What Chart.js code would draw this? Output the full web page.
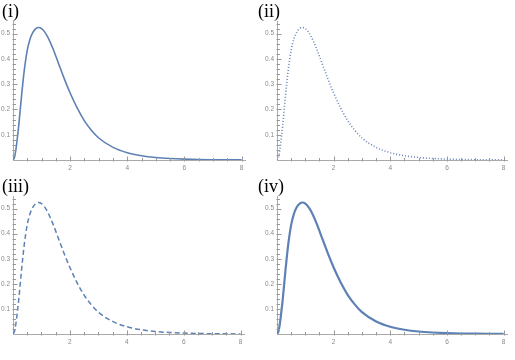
<!DOCTYPE html>
<html>
<head>
<meta charset="utf-8">
<script src="https://cdn.jsdelivr.net/npm/chart.js@4.4.0/dist/chart.umd.min.js"></script>
<style>
  body { margin: 0; background: #fff; }
  #wrap { position: relative; width: 515px; height: 360px; overflow: hidden; }
  canvas { position: absolute; }
  .lbl { position: absolute; font-family: "Liberation Serif", serif; font-size: 18px; line-height: 20px; color: #000; }
</style>
</head>
<body>
<div id="wrap">
  <canvas id="c1" width="250" height="180" style="left:0;top:0"></canvas>
  <canvas id="c2" width="255" height="180" style="left:257px;top:0"></canvas>
  <canvas id="c3" width="250" height="180" style="left:0;top:175px"></canvas>
  <canvas id="c4" width="255" height="180" style="left:257px;top:175px"></canvas>
  <div class="lbl" style="left:2px;top:1px">(i)</div>
  <div class="lbl" style="left:258px;top:1px">(ii)</div>
  <div class="lbl" style="left:2px;top:176px">(iii)</div>
  <div class="lbl" style="left:258px;top:176px">(iv)</div>
</div>
<script>
// valores (misma curva en los 4 paneles)
var xValues = [0, 0.05, 0.1, 0.15, 0.2, 0.25, 0.3, 0.35, 0.4, 0.5, 0.6, 0.7, 0.8, 0.9, 1.0, 1.1, 1.2, 1.4, 1.6, 1.8,
               2.0, 2.25, 2.5, 2.75, 3.0, 3.5, 4.0, 4.5, 5.0, 5.5, 6.0, 6.5, 7.0, 7.5, 8.0];
var yValues = [0, 0.01, 0.04, 0.085, 0.135, 0.195, 0.255, 0.31, 0.36, 0.435, 0.48, 0.506, 0.52, 0.524, 0.52, 0.508, 0.49, 0.44, 0.38, 0.32,
               0.265, 0.205, 0.155, 0.117, 0.087, 0.05, 0.029, 0.017, 0.01, 0.006, 0.0035, 0.002, 0.0012, 0.0007, 0.0004];
var xTickLabels = [2, 4, 6, 8];
var yTickLabels = [0.1, 0.2, 0.3, 0.4, 0.5];

var azul = '#5e81b5';

// marcas de eje hacia dentro, como Mathematica
var ticksPlugin = {
    id: 'ticksDentro',
    afterDraw: function(chart) {
        var c = chart.ctx, xs = chart.scales.x, ys = chart.scales.y;
        c.save();
        c.strokeStyle = '#999';
        c.lineWidth = 1;
        var y0 = Math.round(ys.getPixelForValue(0)) + 0.5;
        var x0 = Math.round(xs.getPixelForValue(0)) + 0.5;
        xs.ticks.forEach(function(t) {
            var k = Math.round(t.value / 0.5);
            if (Math.abs(k * 0.5 - t.value) > 1e-6 || t.value === 0) return;
            var p = Math.round(xs.getPixelForValue(t.value)) + 0.5;
            var len = (k % 4 === 0) ? 4 : 2.5;
            c.beginPath(); c.moveTo(p, y0 + 1); c.lineTo(p, y0 - len); c.stroke();
        });
        ys.ticks.forEach(function(t) {
            var k = Math.round(t.value / 0.02);
            if (Math.abs(k * 0.02 - t.value) > 1e-6 || t.value === 0) return;
            var p = Math.round(ys.getPixelForValue(t.value)) + 0.5;
            var len = (k % 5 === 0) ? 4 : 2.5;
            c.beginPath(); c.moveTo(x0 - 1, p); c.lineTo(x0 + len, p); c.stroke();
        });
        c.restore();
    }
};

function hacerPanel(id, lay, estilo) {
    var puntos = xValues.map(function(x, i) { return { x: x, y: yValues[i] }; });
    var ctx = document.getElementById(id).getContext('2d');
    return new Chart(ctx, {
        type: 'line',
        data: {
            datasets: [{
                data: puntos,
                borderColor: estilo.color,
                borderWidth: estilo.width,
                borderDash: estilo.dash,
                borderCapStyle: 'butt',
                pointRadius: 0,
                fill: false,
                cubicInterpolationMode: 'monotone'
            }]
        },
        options: {
            responsive: false,
            animation: false,
            devicePixelRatio: 1,
            layout: { padding: { top: lay.top, right: lay.right, left: 0, bottom: 0 } },
            plugins: { legend: { display: false }, tooltip: { enabled: false } },
            scales: {
                x: {
                    type: 'linear',
                    min: 0,
                    max: 8.12,
                    grid: { display: false, drawTicks: false },
                    border: { display: true, color: '#aaa', width: 1 },
                    ticks: {
                        stepSize: 0.5,
                        includeBounds: false,
                        autoSkip: false,
                        maxRotation: 0,
                        padding: 4,
                        color: '#8a8a8a',
                        font: { family: 'Liberation Sans', size: 6.5 },
                        callback: function(v) {
                            return xTickLabels.indexOf(v) >= 0 ? String(v) : '';
                        }
                    },
                    afterFit: function(s) { s.height = lay.xh; }
                },
                y: {
                    type: 'linear',
                    min: 0,
                    max: 0.55,
                    grid: { display: false, drawTicks: false },
                    border: { display: true, color: '#aaa', width: 1 },
                    ticks: {
                        stepSize: 0.02,
                        includeBounds: false,
                        autoSkip: false,
                        padding: 3,
                        color: '#8a8a8a',
                        font: { family: 'Liberation Sans', size: 6.5 },
                        callback: function(v) {
                            for (var i = 0; i < yTickLabels.length; i++) {
                                if (Math.abs(yTickLabels[i] - v) < 1e-6) return yTickLabels[i].toFixed(1);
                            }
                            return '';
                        }
                    },
                    afterFit: function(s) { s.width = lay.yw; }
                }
            }
        },
        plugins: [ticksPlugin]
    });
}

document.addEventListener('DOMContentLoaded', function() {
    hacerPanel('c1', { top: 21, right: 5, xh: 20, yw: 13 }, { color: azul, width: 1.6, dash: [] });
    hacerPanel('c2', { top: 21, right: 5, xh: 20, yw: 20 }, { color: '#6584b8', width: 1.6, dash: [1, 2] });
    hacerPanel('c3', { top: 21, right: 6, xh: 21, yw: 13 }, { color: azul, width: 1.5, dash: [5, 3] });
    hacerPanel('c4', { top: 21, right: 5, xh: 21, yw: 20 }, { color: azul, width: 2.2, dash: [] });
});
</script>
</body>
</html>
